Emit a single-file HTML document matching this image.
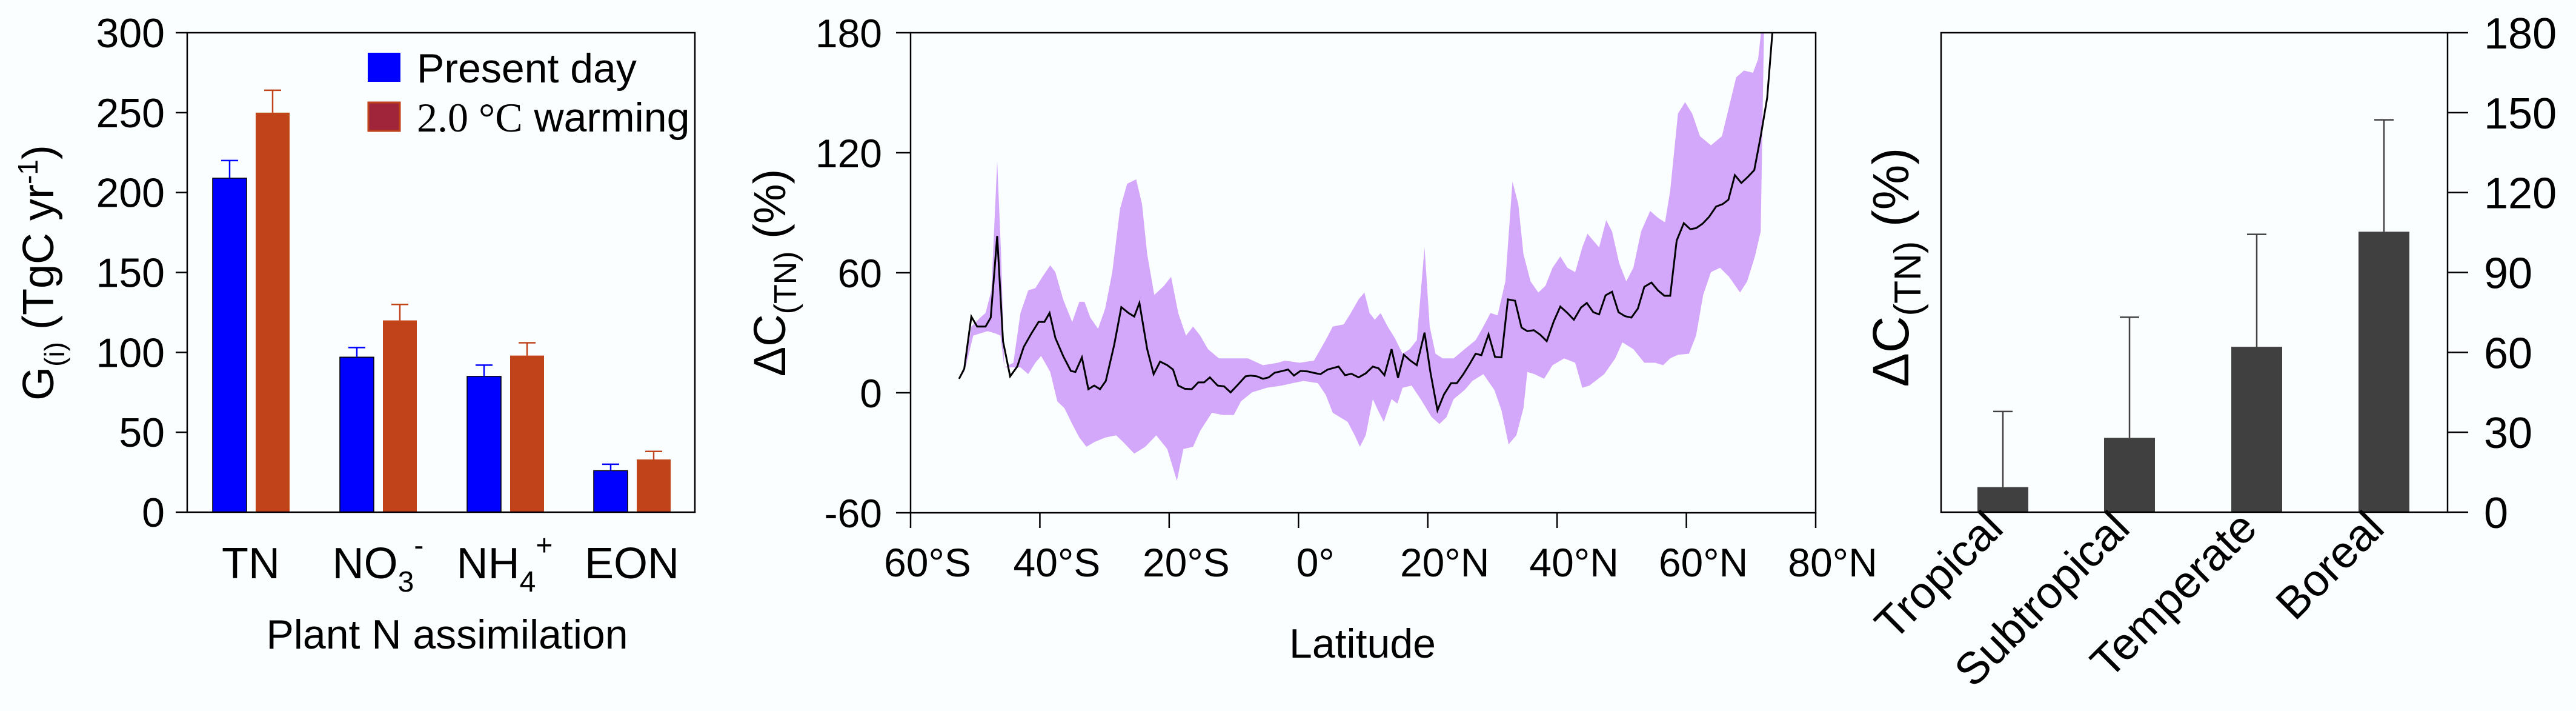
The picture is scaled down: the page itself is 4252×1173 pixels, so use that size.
<!DOCTYPE html>
<html><head><meta charset="utf-8">
<style>
html,body{margin:0;padding:0;background:#fbfeff;}
svg{display:block;}
text{font-family:"Liberation Sans",sans-serif;fill:#000;}
</style></head>
<body>
<svg id="fig" width="4252" height="1173" viewBox="0 0 4252 1173" xmlns="http://www.w3.org/2000/svg">
<defs><clipPath id="clip2"><rect x="1503" y="54" width="1494" height="792"/></clipPath></defs>
<g id="p1"></g>
<g id="p2"></g>
<g id="p3"></g>
</svg>
<script>
// ---------- Panel 1 data ----------
const p1Categories = ["TN","NO3","NH4","EON"];
const p1Present = [209, 97, 85, 26];
const p1PresentErr = [220, 103, 92, 30];
const p1Warming = [250, 120, 98, 33];
const p1WarmingErr = [264, 130, 106, 38];
const p1Ticks = [0,50,100,150,200,250,300];
// ---------- Panel 2 data ----------
const p2Lat = [-52.5,-51.7,-50.6,-49.7,-48.4,-47.6,-46.6,-45.7,-44.6,-43.5,-42.5,-41.3,-40.2,-39.3,-38.5,-37.6,-36.4,-35.2,-34.5,-33.5,-32.5,-31.6,-30.7,-29.8,-28.5,-27.4,-26.3,-25.4,-24.6,-23.4,-22.4,-21.4,-20.3,-19.4,-18.6,-17.6,-16.5,-15.5,-14.6,-13.7,-12.5,-11.5,-10.5,-9.5,-8.2,-7.4,-6.4,-5.5,-4.6,-3.7,-2.5,-1.6,-0.7,0.3,1.4,2.3,3.4,4.5,6.2,7.2,8.2,9.3,10.4,11.5,12.4,13.3,14.4,15.4,16.3,17.3,18.3,19.5,20.4,21.5,22.5,23.6,24.5,25.5,26.5,27.4,28.3,29.4,30.4,31.4,32.4,33.5,34.5,35.4,36.4,37.4,38.4,39.5,40.5,41.6,42.6,43.7,44.6,45.6,46.5,47.5,48.5,49.5,50.5,51.5,52.5,53.5,54.6,55.6,56.6,57.5,58.5,59.6,60.6,61.5,62.5,63.5,64.6,65.6,66.5,67.5,68.5,69.5,70.5,71.5,72.5,73.3];
const p2Mean = [7,12,38.1,33.1,33.1,37.6,78.4,25.8,8.2,13.1,22.9,29.7,35.4,35.4,39.9,27.4,18.4,10.9,10.4,17.7,1.8,3.6,1.8,5.9,24.0,42.8,39.9,38.1,44.9,21.8,9.3,15.6,13.8,11.6,3.6,2.0,1.8,5.2,5.2,7.7,3.6,3.2,0.2,3.6,8.2,8.6,8.2,7.0,7.7,10.0,10.9,11.6,8.6,10.9,10.7,10.0,9.3,11.6,13.1,8.8,9.5,7.7,9.7,13.1,12.2,8.8,21.8,7.5,19.0,16.1,13.8,30.1,10.4,-8.8,-0.9,4.8,4.8,9.3,14.5,19.5,18.8,29.2,17.9,17.7,46.7,46.0,32.6,30.8,31.3,29.0,25.8,35.8,43.1,39.9,36.5,42.6,44.9,40.3,39.2,48.7,50.5,40.3,38.3,37.6,42.1,53.0,55.1,51.2,48.5,48.5,76.1,84.8,81.8,82.3,84.5,87.9,93.1,94.3,96.5,108.8,104.9,107.9,111.3,128.3,147.5,180];
const p2UpLat = [-52.5,-51.7,-50.6,-49.2,-48.4,-47.5,-46.6,-46.0,-45.5,-44.1,-43.0,-41.8,-40.7,-39.6,-38.4,-37.6,-36.4,-35.0,-33.9,-33.1,-32.2,-31.0,-29.9,-28.8,-27.6,-26.5,-25.1,-24.2,-23.4,-22.3,-20.8,-19.7,-18.6,-17.4,-16.3,-15.2,-14.0,-12.3,-10.0,-7.8,-5.5,-3.2,-2.1,0.2,2.4,4.2,5.3,7.0,8.1,9.3,10.2,11.0,11.8,12.7,13.8,14.9,16.1,17.2,18.3,19.5,20.3,21.2,22.3,24.0,25.7,27.4,28.6,29.7,30.8,32.0,33.1,34.0,34.8,35.9,37.1,38.2,39.3,40.5,41.6,42.8,43.9,44.7,45.6,46.5,47.6,48.5,49.6,50.7,51.8,53.0,54.4,55.6,56.7,57.5,58.7,59.8,60.9,62.1,63.8,65.5,66.6,67.7,68.9,70.3,71.1,71.7,72.2];
const p2Upper = [7,10.4,33.1,37.6,39.9,51.2,115.8,69.3,12.7,15.0,39.9,51.2,52.3,58.0,63.7,60.3,46.7,35.4,45.5,45.5,37.6,32.0,42.1,60.3,92.0,104.5,106.7,94.3,69.3,48.9,53.5,58.0,39.9,28.6,33.1,28.6,21.8,17.2,17.2,17.2,13.8,15.0,16.1,15.0,16.1,26.3,33.1,34.2,39.9,46.7,50.1,39.9,36.5,39.9,33.1,27.4,19.5,21.8,26.3,72.7,33.1,19.5,17.2,17.2,21.8,26.3,33.1,39.9,38.7,55.7,105.6,94.3,69.3,55.7,50.1,53.5,62.5,68.2,62.5,60.3,72.7,79.5,76.1,72.7,86.3,80.7,64.8,55.7,62.5,80.7,90.9,87.5,85.2,101.1,139.6,145.3,139.6,128.3,123.7,128.3,143.0,157.7,161.1,160.0,166.8,185,200];
const p2LoLat = [-52.5,-51.5,-50.3,-49.2,-48.1,-46.9,-46.1,-45.5,-43.0,-41.8,-40.7,-39.8,-38.4,-37.3,-36.2,-35.0,-33.9,-32.8,-31.6,-29.9,-28.2,-27.1,-25.4,-23.7,-22.0,-20.3,-18.8,-17.8,-16.3,-15.2,-13.4,-11.7,-10.0,-8.9,-7.2,-4.9,-2.6,-0.9,0.8,3.0,4.2,5.3,7.6,8.7,9.5,10.4,11.5,12.3,13.2,14.4,15.3,16.1,17.5,18.9,20.6,21.8,22.9,24.0,25.7,26.9,28.6,30.3,31.4,32.5,33.7,34.8,35.4,36.5,38.0,39.3,41.1,42.8,43.9,45.0,47.3,49.0,50.1,51.8,53.5,55.2,56.4,57.5,58.7,60.4,61.5,62.6,63.8,65.2,66.6,68.3,69.4,70.6,71.5,72.0,72.2];
const p2Lower = [7,12.7,28.6,29.7,30.8,29.7,28.6,12.7,12.7,9.3,15.0,18.4,10.4,-4.3,-7.7,-15.6,-22.4,-27.0,-24.7,-22.4,-21.3,-24.7,-30.4,-27.0,-21.3,-28.1,-44.0,-28.1,-27.0,-19.0,-10.0,-11.1,-11.1,-4.3,0.2,2.5,3.6,4.8,5.9,4.8,-0.9,-10.0,-14.5,-21.3,-27.0,-21.3,-3.2,-8.8,-14.5,-3.2,-5.4,2.5,3.6,-3.2,-12.2,-15.6,-12.2,-3.2,1.4,5.9,9.3,1.4,-8.8,-25.8,-21.3,-7.7,10.4,9.3,7.0,13.8,17.2,15.0,2.5,3.6,9.3,17.2,25.2,21.8,15.0,15.0,13.8,17.2,19.0,19.5,28.6,48.9,60.3,62.5,58.0,50.1,55.7,68.2,80.7,180,200];
const p2YTicks = [-60,0,60,120,180];
const p2XTicks = [-60,-40,-20,0,20,40,60,80];
const p2XLabels = ["60°S","40°S","20°S","0°","20°N","40°N","60°N","80°N"];
// ---------- Panel 3 data ----------
const p3Categories = ["Tropical","Subtropical","Temperate","Boreal"];
const p3Values = [9.4, 27.9, 62.1, 105.3];
const p3Err = [37.8, 73.2, 104.3, 147.3];
const p3Ticks = [0,30,60,90,120,150,180];

const NS="http://www.w3.org/2000/svg";
function mk(parent,tag,attrs,txt){const e=document.createElementNS(NS,tag);for(const k in attrs)e.setAttribute(k,attrs[k]);if(txt!==undefined)e.textContent=txt;parent.appendChild(e);return e;}

// ===== Panel 1 =====
(function(){
const g=document.getElementById('p1');
const L=309,R=1147,T=54,B=845;
const y=v=>B-(v-0)/300*(B-T);
const groupStart=[351,561,771,980], bw=56, gap=15;
const blue="#0000ff", red="#c0431a";
for(let i=0;i<p1Categories.length;i++){
  const xb=groupStart[i], xr=xb+bw+gap;
  let e=mk(g,'rect',{x:xb,y:y(p1Present[i]),width:bw,height:B-y(p1Present[i]),fill:blue,stroke:"#000",'stroke-width':1.5});
  
  
  e=mk(g,'path',{d:`M${xb+bw/2},${y(p1Present[i])}V${y(p1PresentErr[i])}M${xb+bw/2-14},${y(p1PresentErr[i])}H${xb+bw/2+14}`,stroke:blue,'stroke-width':2.5,fill:"none"});
  
  
  e=mk(g,'rect',{x:xr,y:y(p1Warming[i]),width:bw,height:B-y(p1Warming[i]),fill:red});
  
  
  e=mk(g,'path',{d:`M${xr+bw/2},${y(p1Warming[i])}V${y(p1WarmingErr[i])}M${xr+bw/2-14},${y(p1WarmingErr[i])}H${xr+bw/2+14}`,stroke:red,'stroke-width':2.5,fill:"none"});
  
  
}
let f=mk(g,'rect',{x:L,y:T,width:R-L,height:B-T,fill:"none",stroke:"#000",'stroke-width':2.5});


for(const t of p1Ticks){
  mk(g,'line',{x1:L-19,x2:L,y1:y(t),y2:y(t),stroke:"#000",'stroke-width':2.5});
  const tx=mk(g,'text',{x:272,y:y(t)+24,'text-anchor':'end','font-size':68},t);
  
  
}
const labs=[["TN",null,null],["NO","3","-"],["NH","4","+"],["EON",null,null]];
const cx=[414,624,833,1043];
labs.forEach((l,i)=>{
  const t=mk(g,'text',{x:cx[i],y:954,'text-anchor':'middle','font-size':72});
  
  
  mk(t,'tspan',{},l[0]);
  if(l[1]){mk(t,'tspan',{'font-size':48,dy:22},l[1]);mk(t,'tspan',{'font-size':48,dy:-60},l[2]);}
});
let t=mk(g,'text',{x:738,y:1070,'text-anchor':'middle','font-size':68},"Plant N assimilation");


t=mk(g,'text',{transform:'translate(88,450) rotate(-90)','text-anchor':'middle','font-size':72});


mk(t,'tspan',{},"G");mk(t,'tspan',{'font-size':46,dy:18},"(i)");mk(t,'tspan',{dy:-18}," (TgC yr");mk(t,'tspan',{'font-size':46,dy:-26},"-1");mk(t,'tspan',{dy:26},")");
let lg=mk(g,'g',{});


mk(lg,'rect',{x:607,y:87,width:54,height:48,fill:blue});
mk(lg,'text',{x:688,y:136,'font-size':68},"Present day");
mk(lg,'rect',{x:608,y:169,width:52,height:47,fill:"#a0253a",stroke:"#c0431a",'stroke-width':3});
const lt=mk(lg,'text',{x:688,y:217,'font-size':68});
mk(lt,'tspan',{'font-family':'"Liberation Serif",serif'},"2.0 °C");mk(lt,'tspan',{}," warming");
})();

// ===== Panel 2 =====
(function(){
const g=document.getElementById('p2');
const L=1503,R=2997,T=54,B=846;
const x=v=>L+(v+60)/140*(R-L);
const y=v=>B-(v+60)/240*(B-T);
const cg=mk(g,'g',{'clip-path':'url(#clip2)'});
let d="M"+p2UpLat.map((la,i)=>x(la)+","+y(p2Upper[i])).join("L");
for(let i=p2LoLat.length-1;i>=0;i--) d+="L"+x(p2LoLat[i])+","+y(p2Lower[i]);
d+="Z";
let e=mk(cg,'path',{d:d,fill:"#d3a8fb",stroke:"none"});


e=mk(cg,'path',{d:"M"+p2Lat.map((la,i)=>x(la)+","+y(p2Mean[i])).join("L"),fill:"none",stroke:"#000",'stroke-width':3});


e=mk(g,'rect',{x:L,y:T,width:R-L,height:B-T,fill:"none",stroke:"#000",'stroke-width':2.5});


for(const t of p2YTicks){
  mk(g,'line',{x1:L-24,x2:L,y1:y(t),y2:y(t),stroke:"#000",'stroke-width':2.5});
  const tx=mk(g,'text',{x:1456,y:y(t)+24,'text-anchor':'end','font-size':66},t);
  
  
}
p2XTicks.forEach((t,i)=>{
  mk(g,'line',{x1:x(t),x2:x(t),y1:B,y2:B+25,stroke:"#000",'stroke-width':2.5});
  const tx=mk(g,'text',{x:x(t)+28,y:951,'text-anchor':'middle','font-size':66},p2XLabels[i]);
  
  
});
let t=mk(g,'text',{x:2249,y:1085,'text-anchor':'middle','font-size':68},"Latitude");


t=mk(g,'text',{transform:'translate(1296,450) rotate(-90)','text-anchor':'middle','font-size':74});


mk(t,'tspan',{},"ΔC");mk(t,'tspan',{'font-size':52,dy:18},"(TN)");mk(t,'tspan',{dy:-18}," (%)");
})();

// ===== Panel 3 =====
(function(){
const g=document.getElementById('p3');
const L=3204,R=4040,T=54,B=845;
const y=v=>B-v/180*(B-T);
const bx=[3264,3473,3683,3893], bw=84;
p3Categories.forEach((c,i)=>{
  const cx=bx[i]+bw/2;
  let e=mk(g,'path',{d:`M${cx},${y(p3Values[i])}V${y(p3Err[i])}M${cx-16},${y(p3Err[i])}H${cx+16}`,stroke:"#404040",'stroke-width':2.5,fill:"none"});
  
  
  e=mk(g,'rect',{x:bx[i],y:y(p3Values[i]),width:bw,height:B-y(p3Values[i]),fill:"#404040"});
  
  
  const tx=mk(g,'text',{transform:`translate(${cx+4},${B+30}) rotate(-45)`,'text-anchor':'end','font-size':74},c);
  
  
});
let e=mk(g,'rect',{x:L,y:T,width:R-L,height:B-T,fill:"none",stroke:"#000",'stroke-width':2.5});


for(const t of p3Ticks){
  mk(g,'line',{x1:R,x2:R+34,y1:y(t),y2:y(t),stroke:"#000",'stroke-width':2.5});
  const tx=mk(g,'text',{x:4100,y:y(t)+26,'font-size':72},t);
  
  
}
const t=mk(g,'text',{transform:'translate(3150,441) rotate(-90)','text-anchor':'middle','font-size':84});


mk(t,'tspan',{},"ΔC");mk(t,'tspan',{'font-size':62,dy:20},"(TN)");mk(t,'tspan',{dy:-20}," (%)");
})();
</script>
</body></html>
